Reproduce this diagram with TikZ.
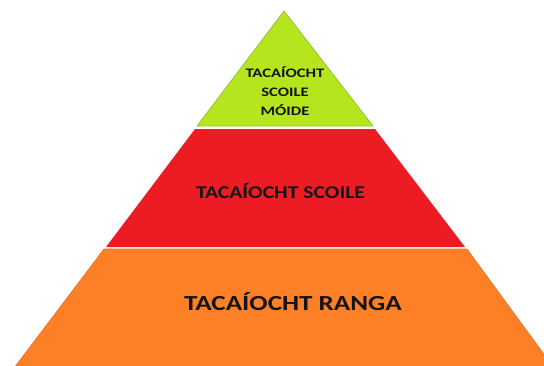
\documentclass[tikz,border=0pt]{standalone}
\usepackage{graphicx}
\usepackage{fontspec}
\setmainfont{Carlito}
\definecolor{limeG}{HTML}{B5E61D}
\definecolor{limeEdge}{HTML}{8FC63A}
\definecolor{redF}{HTML}{ED1C24}
\definecolor{orangeF}{HTML}{FD8027}
\definecolor{orangeEdge}{HTML}{E8731F}
\definecolor{txt}{HTML}{141414}
\tikzset{
  lbl/.style={text=txt, font=\bfseries, align=center, inner sep=0pt},
}
\begin{document}
\begin{tikzpicture}[x=1pt,y=-1pt]
\useasboundingbox (0,0) rectangle (544,365);
\begin{scope}
\clip (0,0) rectangle (544,365);
% bottom band
\fill[orangeF, draw=orangeEdge, line width=0.6pt] (104,249) -- (467,249) -- (557,372) -- (11,372) -- cycle;
% middle band
\fill[redF] (195,129) -- (375,129) -- (465,247) -- (106,247) -- cycle;
% top triangle
\filldraw[fill=limeG, draw=limeEdge, line width=0.8pt] (284,11) -- (373,126) -- (197,126) -- cycle;
\end{scope}
\node[lbl, font=\bfseries\fontsize{13}{19}\selectfont] (top) at (285,91) {\scalebox{1.28}[1]{TACAÍOCHT}\\\scalebox{1.28}[1]{SCOILE}\\\scalebox{1.28}[1]{MÓIDE}};
\node[lbl, font=\bfseries\fontsize{18}{20}\selectfont] (mid) at (280.5,191) {\scalebox{1.2}[1]{TACAÍOCHT SCOILE}};
\node[lbl, font=\bfseries\fontsize{21.5}{24}\selectfont] (bot) at (293,302) {\scalebox{1.26}[1]{TACAÍOCHT RANGA}};
\end{tikzpicture}
\end{document}
